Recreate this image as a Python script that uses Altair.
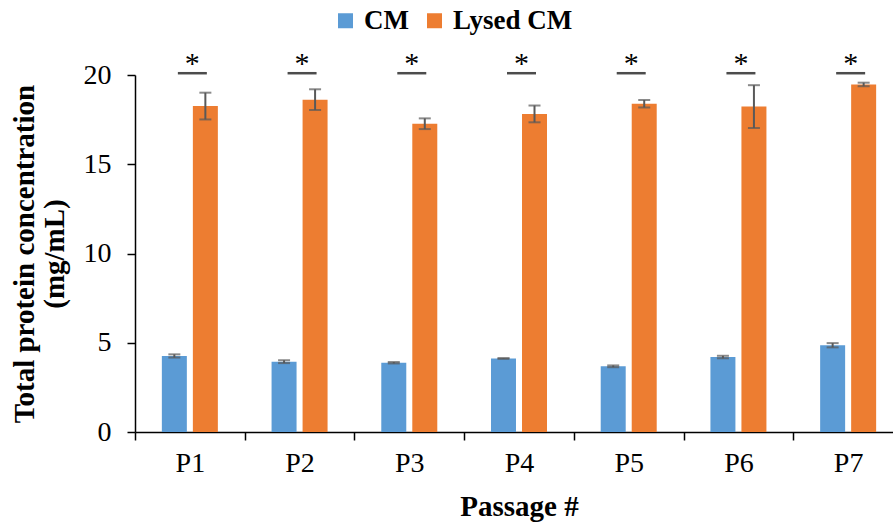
import altair as alt
import pandas as pd

# Passages and the two sample groups
passages = ["P1", "P2", "P3", "P4", "P5", "P6", "P7"]
groups = ["CM", "Lysed CM"]

# Mean total protein concentration (mg/mL) and error (±) per passage
cm_mean = [4.26, 3.94, 3.88, 4.12, 3.68, 4.20, 4.86]
cm_err = [0.09, 0.08, 0.04, 0.02, 0.05, 0.07, 0.12]
lysed_mean = [18.26, 18.62, 17.27, 17.82, 18.39, 18.23, 19.47]
lysed_err = [0.75, 0.58, 0.30, 0.47, 0.21, 1.20, 0.10]

# Significance bracket height and marker
sig_level = 20.1
sig_marker = "*"

y_ticks = [0, 5, 10, 15, 20]

colors = ["#5B9BD5", "#ED7D31"]
err_color = "#595959"
FONT = "Liberation Serif"

rows = []
for i, p in enumerate(passages):
    rows.append({"passage": p, "group": "CM", "mean": cm_mean[i],
                 "lo": cm_mean[i] - cm_err[i], "hi": cm_mean[i] + cm_err[i]})
    rows.append({"passage": p, "group": "Lysed CM", "mean": lysed_mean[i],
                 "lo": lysed_mean[i] - lysed_err[i], "hi": lysed_mean[i] + lysed_err[i]})
df = pd.DataFrame(rows)
sig_df = pd.DataFrame({"passage": passages, "y": [sig_level] * len(passages),
                       "mark": [sig_marker] * len(passages)})

x_enc = alt.X(
    "passage:N",
    sort=passages,
    scale=alt.Scale(domain=passages, range=[0, 768], paddingInner=0, paddingOuter=0),
    axis=alt.Axis(
        title="Passage #",
        labelAngle=0,
        labelFont=FONT,
        labelFontSize=28,
        labelColor="black",
        labelPadding=9,
        titleFont=FONT,
        titleFontSize=29,
        titleFontWeight="bold",
        titleColor="black",
        titlePadding=15,
        tickBand="extent",
        tickSize=8,
        tickColor="black",
        tickWidth=1.5,
        domainColor="black",
        domainWidth=1.5,
        grid=False,
    ),
)
y_scale = alt.Scale(domain=[0, 20], nice=False, zero=True)
y_axis = alt.Axis(
    title=["Total protein concentration", "(mg/mL)"],
    values=y_ticks,
    labelFont=FONT,
    labelFontSize=28,
    labelColor="black",
    labelPadding=16,
    titleFont=FONT,
    titleFontSize=29,
    titleFontWeight="bold",
    titleColor="black",
    titleLineHeight=30,
    titlePadding=14,
    tickSize=8,
    tickColor="black",
    tickWidth=1.5,
    domainColor="black",
    domainWidth=1.5,
    grid=False,
)

base = alt.Chart(df).encode(
    x=x_enc,
    xOffset=alt.XOffset("group:N", sort=groups,
                        scale=alt.Scale(domain=groups, paddingInner=0.194, paddingOuter=0.866)),
)

bars = base.mark_bar().encode(
    y=alt.Y("mean:Q", scale=y_scale, axis=y_axis),
    color=alt.Color(
        "group:N",
        sort=groups,
        scale=alt.Scale(domain=groups, range=colors),
        legend=alt.Legend(
            title=None,
            orient="none",
            direction="horizontal",
            legendX=197,
            legendY=-68,
            symbolType="square",
            symbolSize=225,
            symbolStrokeWidth=0,
            labelFont=FONT,
            labelFontSize=27,
            labelFontWeight="bold",
            labelColor="black",
            labelOffset=5,
            columnPadding=12,
            padding=0,
        ),
    ),
)

err_rule = base.mark_rule(color=err_color, strokeWidth=2).encode(
    y=alt.Y("lo:Q", scale=y_scale), y2="hi:Q"
)
cap_lo = base.mark_tick(color=err_color, size=12, thickness=2, orient="horizontal").encode(
    y=alt.Y("lo:Q", scale=y_scale)
)
cap_hi = base.mark_tick(color=err_color, size=12, thickness=2, orient="horizontal").encode(
    y=alt.Y("hi:Q", scale=y_scale)
)

sig_base = alt.Chart(sig_df).encode(x=alt.X("passage:N", sort=passages), y=alt.Y("y:Q", scale=y_scale))
sig_line = sig_base.mark_tick(color="black", size=29, thickness=2.5, orient="horizontal", xOffset=2.5)
sig_text = sig_base.mark_text(font=FONT, fontSize=30, color="black", baseline="alphabetic",
                              dx=2.5, dy=0).encode(text="mark:N")

chart = (
    alt.layer(bars, err_rule, cap_lo, cap_hi, sig_line, sig_text)
    .properties(
        width=758,
        height=357,
        autosize=alt.AutoSizeParams(type="none"),
        padding={"left": 135, "top": 75, "right": 0, "bottom": 91},
        background="white",
    )
    .configure_view(stroke=None)
)

chart.save("out.html", embed_options={"renderer": "svg", "actions": False})
